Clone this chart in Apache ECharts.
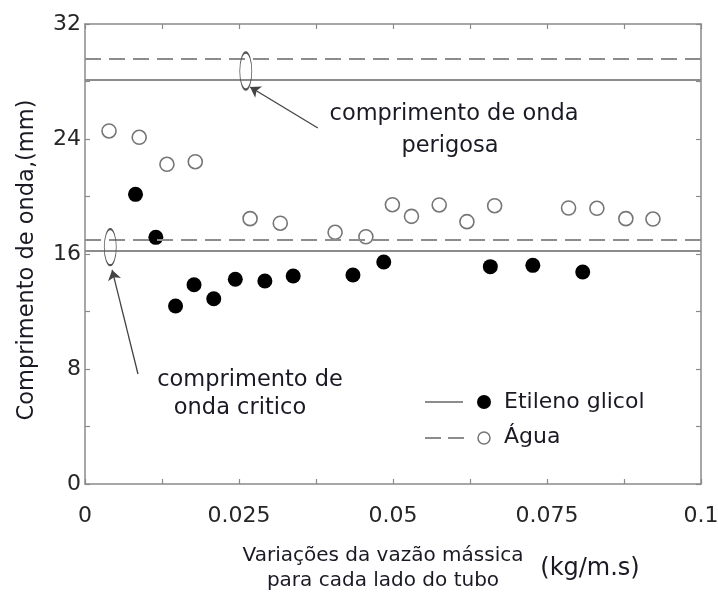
<!DOCTYPE html>
<html>
<head>
<meta charset="utf-8">
<script src="https://cdn.jsdelivr.net/npm/echarts@6/dist/echarts.min.js"></script>
<style>
  html, body { margin: 0; padding: 0; background: #fff; }
  #chart { width: 718px; height: 599px; }
</style>
</head>
<body>
<div id="chart"></div>
<script>
// Comprimento de onda medido vs. vazão mássica (água e etileno glicol)
const xTickLabels = ['0', '0.025', '0.05', '0.075', '0.1'];
const yTickLabels = ['0', '8', '16', '24', '32'];

const aguaX = [0.0039, 0.0088, 0.0133, 0.0179, 0.0268, 0.0317, 0.0406, 0.0456, 0.0499,
               0.0530, 0.0575, 0.0620, 0.0665, 0.0785, 0.0831, 0.0878, 0.0922];
const aguaY = [24.56, 24.12, 22.24, 22.42, 18.46, 18.14, 17.51, 17.20, 19.43,
               18.62, 19.41, 18.25, 19.36, 19.20, 19.18, 18.46, 18.43];

const etilenoX = [0.0082, 0.0115, 0.0147, 0.0177, 0.0209, 0.0244, 0.0292, 0.0338,
                  0.0435, 0.0485, 0.0658, 0.0727, 0.0808];
const etilenoY = [20.15, 17.16, 12.38, 13.86, 12.89, 14.24, 14.12, 14.47,
                  14.54, 15.44, 15.12, 15.21, 14.75];

// comprimento de onda crítico e perigoso de cada fluido
const etilenoLimites = [16.2, 28.1];
const aguaLimites = [17.0, 29.57];

// destaques (elipses) e setas das anotações, em coordenadas de dados
const elipses = [[0.0261, 28.73], [0.0041, 16.47]];
const setas = [
  [[0.0378, 24.77], [0.0268, 27.62]],
  [[0.0086, 7.65], [0.0044, 14.89]]
];

const FONT = 'DejaVu Sans';
const axisGray = '#8a8a8a';
const textDark = '#1a1a24';

function xLabel(v) {
  const k = Math.round(v / 0.0125);
  return k % 2 ? '' : xTickLabels[k / 2];
}
function yLabel(v) {
  const k = Math.round(v / 4);
  return k % 2 ? '' : yTickLabels[k / 2];
}

function makeX(position, showLabel) {
  return {
    type: 'value', position, min: 0, max: 0.1, interval: 0.0125,
    axisLine: { show: true, onZero: false, lineStyle: { color: axisGray, width: 1.5 } },
    axisTick: { show: true, inside: true, length: 5, lineStyle: { color: axisGray, width: 1.2 } },
    splitLine: { show: false },
    axisLabel: {
      show: showLabel, margin: 21, color: '#262626', fontFamily: FONT, fontSize: 22,
      formatter: xLabel
    }
  };
}
function makeY(position, showLabel) {
  return {
    type: 'value', position, min: 0, max: 32, interval: 4,
    axisLine: { show: true, onZero: false, lineStyle: { color: axisGray, width: 1.5 } },
    axisTick: { show: true, inside: true, length: 5, lineStyle: { color: axisGray, width: 1.2 } },
    splitLine: { show: false },
    axisLabel: {
      show: showLabel, margin: 4, color: '#262626', fontFamily: FONT, fontSize: 22,
      formatter: yLabel
    }
  };
}

function txt(text, x, y, size, align, opts) {
  return Object.assign({
    type: 'text', x, y, silent: true,
    style: {
      text, font: size + 'px "' + FONT + '"', fill: textDark,
      align: align || 'center', verticalAlign: 'middle',
      textAlign: align || 'center', textVerticalAlign: 'middle'
    }
  }, opts || {});
}

const chart = echarts.init(document.getElementById('chart'), null, { renderer: 'canvas' });

chart.setOption({
  animation: false,
  backgroundColor: '#fff',
  grid: { left: 85, right: 17, top: 24, bottom: 115, containLabel: false, outerBoundsMode: 'none' },
  xAxis: [makeX('bottom', true), makeX('top', false)],
  yAxis: [makeY('left', true), makeY('right', false)],
  series: [
    {
      name: 'Etileno glicol', type: 'scatter', z: 4,
      data: etilenoX.map((x, i) => [x, etilenoY[i]]),
      symbol: 'circle', symbolSize: 15,
      itemStyle: { color: '#000', opacity: 1 },
      markLine: {
        silent: true, symbol: 'none', label: { show: false },
        lineStyle: { color: '#8c8c8c', width: 2, type: 'solid', opacity: 1 },
        data: etilenoLimites.map(v => ({ yAxis: v }))
      }
    },
    {
      name: 'Água', type: 'scatter', z: 4,
      data: aguaX.map((x, i) => [x, aguaY[i]]),
      symbol: 'circle', symbolSize: 14,
      itemStyle: { color: 'rgba(255,255,255,0)', borderColor: '#767676', borderWidth: 1.6, opacity: 1 },
      markLine: {
        silent: true, symbol: 'none', label: { show: false },
        lineStyle: { color: '#8c8c8c', width: 2, type: [16, 8], opacity: 1 },
        data: aguaLimites.map(v => ({ yAxis: v }))
      }
    },
    {
      name: 'anotações', type: 'scatter', z: 5, data: [],
      markPoint: {
        silent: true, symbol: 'circle', label: { show: false },
        itemStyle: { color: 'rgba(0,0,0,0)', borderColor: '#555', borderWidth: 1.3, opacity: 1 },
        data: elipses.map((c, i) => ({ coord: c, symbolSize: i === 0 ? [12, 37] : [12, 36] }))
      },
      markLine: {
        silent: true, symbol: ['none', 'arrow'], symbolSize: 10, label: { show: false },
        lineStyle: { color: '#444', width: 1.3, type: 'solid', opacity: 1 },
        data: setas.map(([a, b]) => [{ coord: a }, { coord: b }])
      }
    }
  ],
  graphic: [
    txt('comprimento de onda', 454, 114, 22.5),
    txt('perigosa', 450, 146, 22.5),
    txt('comprimento de', 250, 380, 22.5),
    txt('onda critico', 240, 408, 22.5),
    txt('Variações da vazão mássica', 383, 556, 20),
    txt('para cada lado do tubo', 383, 581, 20),
    txt('(kg/m.s)', 590, 569, 24),
    txt('Comprimento de onda,(mm)', 27, 260, 22.5, 'center', { rotation: Math.PI / 2 }),
    // legenda
    { type: 'line', silent: true, shape: { x1: 425, y1: 402, x2: 463, y2: 402 },
      style: { stroke: '#8c8c8c', lineWidth: 2 } },
    { type: 'circle', silent: true, shape: { cx: 484, cy: 402, r: 7 }, style: { fill: '#000' } },
    txt('Etileno glicol', 504, 402, 22, 'left'),
    { type: 'line', silent: true, shape: { x1: 425, y1: 438, x2: 470, y2: 438 },
      style: { stroke: '#8c8c8c', lineWidth: 2, lineDash: [16, 7] } },
    { type: 'circle', silent: true, shape: { cx: 484, cy: 438, r: 6 },
      style: { fill: '#fff', stroke: '#767676', lineWidth: 1.5 } },
    txt('Água', 504, 437, 22, 'left')
  ]
});
</script>
</body>
</html>
